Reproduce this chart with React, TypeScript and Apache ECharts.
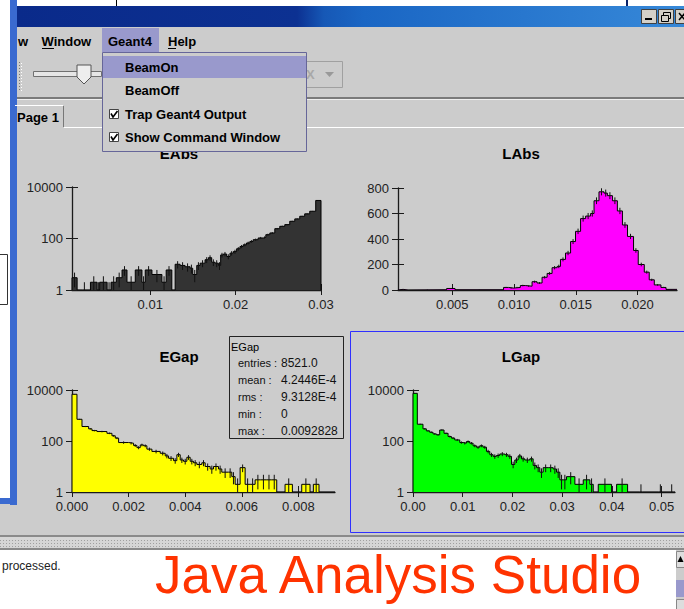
import React, { useEffect, useRef } from 'react';
import * as echarts from 'echarts';

const FONT = "'Liberation Sans', Arial, sans-serif";

// ---------- EAbs (log y) ----------
const eAbsEdges = [0.00084, 0.00144, 0.0021, 0.00248, 0.003, 0.00378, 0.00408, 0.00495, 0.00541, 0.00603, 0.0067, 0.00728, 0.00825, 0.00903, 0.00942, 0.0102, 0.01137, 0.01187, 0.01253, 0.01292, 0.0135, 0.01408, 0.01467, 0.01498, 0.01545, 0.01584, 0.01642, 0.01681, 0.0172, 0.01759, 0.01798, 0.01825, 0.01856, 0.01895, 0.01934, 0.01973, 0.02012, 0.02051, 0.02089, 0.02128, 0.02167, 0.02206, 0.02264, 0.02323, 0.02354, 0.02401, 0.02459, 0.02517, 0.02576, 0.02634, 0.02693, 0.02751, 0.02809, 0.02868, 0.02938, 0.03];
const eAbsCounts = [3, 0, 1, 0, 2, 1, 2, 1, 2, 3, 6, 2, 6, 2, 6, 4, 2, 6, 0, 10, 9, 8, 7, 4, 9, 11, 15, 18, 12, 11, 9, 23, 25, 20, 27, 31, 40, 49, 57, 67, 77, 90, 105, 110, 141, 164, 241, 297, 346, 466, 578, 730, 906, 1145, 3000];
const eAbsXTicks = [0.01, 0.02, 0.03];

// ---------- LAbs (linear y) ----------
const lAbsEdges = [0.0006, 0.00101, 0.00142, 0.00454, 0.00522, 0.00915, 0.00956, 0.00996, 0.01051, 0.01091, 0.01146, 0.01186, 0.01227, 0.01268, 0.01308, 0.01349, 0.01376, 0.01417, 0.01458, 0.01498, 0.01539, 0.0158, 0.0162, 0.01648, 0.01688, 0.01729, 0.01756, 0.01797, 0.01837, 0.01878, 0.01919, 0.01968, 0.02006, 0.02055, 0.02095, 0.02136, 0.0219, 0.02231, 0.0232];
const lAbsCounts = [5, 0, 2, 12, 2, 20, 15, 20, 35, 30, 65, 55, 100, 130, 175, 185, 240, 290, 380, 460, 560, 580, 600, 700, 770, 760, 740, 700, 620, 510, 420, 310, 200, 140, 80, 40, 20, 5];
const lAbsXTicks = [0.005, 0.01, 0.015, 0.02];

// ---------- EGap (log y) ----------
const eGapEdges = [0, 0.000176, 0.000353, 0.000588, 0.000706, 0.000882, 0.001235, 0.001412, 0.001529, 0.001647, 0.002, 0.002176, 0.002294, 0.002412, 0.002529, 0.002647, 0.002824, 0.003118, 0.003294, 0.003412, 0.003588, 0.003706, 0.003824, 0.003941, 0.004059, 0.004176, 0.004294, 0.004412, 0.004588, 0.004706, 0.004882, 0.005, 0.005176, 0.005294, 0.005529, 0.005647, 0.005765, 0.005941, 0.006118, 0.006294, 0.006471, 0.006667, 0.006863, 0.007059, 0.007235, 0.007529, 0.007788, 0.008118, 0.008412, 0.008529, 0.008729, 0.009294];
const eGapCounts = [6800, 710, 370, 300, 256, 235, 200, 160, 130, 87, 82, 67, 55, 70, 65, 48, 39, 33, 26, 21, 17, 29, 18, 16, 23, 16, 14, 12, 14, 10, 8, 10, 8, 6, 6, 4, 2, 9, 2, 2, 3, 3, 3, 3, 0, 2, 0, 2, 0, 2, 0];
const eGapXTicks = [0, 0.002, 0.004, 0.006, 0.008];

// ---------- LGap (log y) ----------
const lGapEdges = [0, 0.00087, 0.00201, 0.00268, 0.00336, 0.00403, 0.0047, 0.00537, 0.00624, 0.00705, 0.00772, 0.00839, 0.0094, 0.01007, 0.01074, 0.01141, 0.01208, 0.01275, 0.01342, 0.01409, 0.01477, 0.01544, 0.01611, 0.01678, 0.01745, 0.01846, 0.01913, 0.0198, 0.02047, 0.02114, 0.02181, 0.02248, 0.02349, 0.02416, 0.02483, 0.0255, 0.02617, 0.02718, 0.02819, 0.02886, 0.02953, 0.0302, 0.03087, 0.03255, 0.03423, 0.03557, 0.03624, 0.03725, 0.03993, 0.04094, 0.04315, 0.0455, 0.04617, 0.0494, 0.05007, 0.05168, 0.05235, 0.05268];
const lGapCounts = [7400, 455, 300, 250, 220, 190, 175, 270, 200, 150, 130, 110, 87, 82, 95, 82, 65, 57, 65, 57, 39, 29, 25, 27, 31, 29, 25, 12, 18, 26, 20, 18, 20, 11, 9, 6, 9, 9, 8, 6, 3, 3, 4, 2, 3, 2, 0, 2, 0, 2, 0, 1, 0, 1, 0, 1, 0];
const lGapXTicks = [0, 0.01, 0.02, 0.03, 0.04, 0.05];

// stats box
const statLabels = ['entries :', 'mean :', 'rms :', 'min :', 'max :'];
const statValues = ['8521.0', '4.2446E-4', '9.3128E-4', '0', '0.0092828'];

const menuItems = ['BeamOn', 'BeamOff', 'Trap Geant4 Output', 'Show Command Window'];

const GRAY = '#cccccc';
const AX = '#1a1a1a';

type Hist = {
  name: string; edges: number[]; counts: number[]; log: boolean; fill: string;
  grid: { left: number; top: number; width: number; height: number };
  xTicks: number[]; dec: number; yMax: number; yInt: number;
};

const hists: Hist[] = [
  { name: 'EAbs', edges: eAbsEdges, counts: eAbsCounts, log: true, fill: '#333333', grid: { left: 72, top: 187, width: 249, height: 103 }, xTicks: eAbsXTicks, dec: 2, yMax: 4, yInt: 2 },
  { name: 'LAbs', edges: lAbsEdges, counts: lAbsCounts, log: false, fill: '#ff00ff', grid: { left: 398, top: 188, width: 279, height: 102 }, xTicks: lAbsXTicks, dec: 3, yMax: 800, yInt: 200 },
  { name: 'EGap', edges: eGapEdges, counts: eGapCounts, log: true, fill: '#ffff00', grid: { left: 72, top: 390, width: 263, height: 102 }, xTicks: eGapXTicks, dec: 3, yMax: 4, yInt: 2 },
  { name: 'LGap', edges: lGapEdges, counts: lGapCounts, log: true, fill: '#00ff00', grid: { left: 413, top: 390, width: 262, height: 102 }, xTicks: lGapXTicks, dec: 2, yMax: 4, yInt: 2 },
];

const tr = (h: Hist, c: number) => (h.log ? Math.log10(Math.max(c, 1)) : c);

function stepPoints(h: Hist) {
  const n = h.counts.length;
  const pts: number[][] = [[h.edges[0], 0]];
  for (let i = 0; i < n; i++) pts.push([h.edges[i], tr(h, h.counts[i])]);
  pts.push([h.edges[n], tr(h, h.counts[n - 1])]);
  pts.push([h.edges[n], 0]);
  return pts;
}

function errPoints(h: Hist) {
  const out: number[][] = [];
  h.counts.forEach((c, i) => {
    if (c <= 0) return;
    const mid = (h.edges[i] + h.edges[i + 1]) / 2;
    const e = Math.sqrt(c);
    out.push([mid, tr(h, Math.max(c - e, h.log ? 1 : 0)), tr(h, c + e)]);
  });
  return out;
}

function buildOption() {
  const grid: any[] = [];
  const xAxis: any[] = [];
  const yAxis: any[] = [];
  const series: any[] = [];
  hists.forEach((h, g) => {
    grid.push({ ...h.grid, containLabel: false });
    const xMin = h.edges[0];
    const xMax = h.edges[h.edges.length - 1];
    const lbl = { color: '#222', fontSize: 13, fontFamily: FONT };
    xAxis.push({
      gridIndex: g, type: 'value', min: xMin, max: xMax, position: 'bottom',
      axisLine: { show: true, onZero: false, lineStyle: { color: AX, width: 1.3 } },
      axisTick: { show: true, inside: false, length: 5, customValues: h.xTicks, lineStyle: { color: AX, width: 1 } },
      axisLabel: { ...lbl, customValues: h.xTicks, margin: 8, formatter: (v: number) => Number(v).toFixed(h.dec) },
      splitLine: { show: false },
    });
    xAxis.push({
      gridIndex: g, type: 'value', min: xMin, max: xMax, position: 'bottom',
      axisLine: { show: false, onZero: false },
      axisTick: { show: true, inside: true, length: 6, customValues: h.xTicks, lineStyle: { color: AX, width: 1 } },
      axisLabel: { show: false },
      splitLine: { show: false },
    });
    const yFmt = (v: number) => (h.log ? String(Math.round(Math.pow(10, v))) : String(v));
    yAxis.push({
      gridIndex: g, type: 'value', min: 0, max: h.yMax, interval: h.yInt, position: 'left',
      axisLine: { show: true, onZero: false, lineStyle: { color: AX, width: 1.3 } },
      axisTick: { show: true, inside: false, length: 6, lineStyle: { color: AX, width: 1 } },
      axisLabel: { ...lbl, margin: 9, formatter: yFmt },
      splitLine: { show: false },
    });
    yAxis.push({
      gridIndex: g, type: 'value', min: 0, max: h.yMax, interval: h.yInt, position: 'left',
      axisLine: { show: false, onZero: false },
      axisTick: { show: true, inside: true, length: 6, lineStyle: { color: AX, width: 1 } },
      axisLabel: { show: false },
      splitLine: { show: false },
    });
    series.push({
      name: h.name, type: 'line', xAxisIndex: 2 * g, yAxisIndex: 2 * g,
      data: stepPoints(h), step: 'end', symbol: 'none', showSymbol: false, silent: true,
      lineStyle: { color: '#000', width: 1 }, areaStyle: { color: h.fill, opacity: 1 }, z: 2,
    });
    series.push({
      name: h.name + ' err', type: 'custom', xAxisIndex: 2 * g, yAxisIndex: 2 * g,
      data: errPoints(h), silent: true, z: 3,
      encode: { x: 0, y: [1, 2] },
      renderItem: (_p: any, api: any) => {
        const a = api.coord([api.value(0), api.value(1)]);
        const b = api.coord([api.value(0), api.value(2)]);
        return { type: 'line', shape: { x1: a[0], y1: a[1], x2: b[0], y2: b[1] }, style: { stroke: '#111', lineWidth: 1 } };
      },
    });
  });

  const rect = (x: number, y: number, w: number, hh: number, fill: any, stroke?: string, z = 1, lw = 1) => ({
    type: 'rect', z, silent: true, shape: { x, y, width: w, height: hh },
    style: { fill: fill ?? 'none', stroke: stroke ?? 'none', lineWidth: lw },
  });
  const line = (x1: number, y1: number, x2: number, y2: number, stroke: string, lw = 1, z = 1, dash?: number[]) => ({
    type: 'line', z, silent: true, shape: { x1, y1, x2, y2 }, style: { stroke, lineWidth: lw, lineDash: dash },
  });
  const text = (t: string, x: number, y: number, size: number, opts: any = {}) => ({
    type: 'text', z: opts.z ?? 5, silent: true, x, y,
    style: {
      text: t, fill: opts.color ?? '#000', fontSize: size, fontWeight: opts.bold ? 'bold' : 'normal', fontFamily: FONT,
      textAlign: opts.align ?? 'left', textVerticalAlign: 'middle', align: opts.align ?? 'left', verticalAlign: 'middle',
    },
  });
  const poly = (pts: number[][], fill: string, stroke?: string, z = 1) => ({
    type: 'polygon', z, silent: true, shape: { points: pts }, style: { fill, stroke: stroke ?? 'none', lineWidth: 1 },
  });

  const titleGrad = new echarts.graphic.LinearGradient(0, 0, 1, 0, [
    { offset: 0, color: '#0a2a8a' },
    { offset: 0.42, color: '#0c3192' },
    { offset: 0.46, color: '#1658b6' },
    { offset: 0.52, color: '#1a66c4' },
    { offset: 1, color: '#3688d8' },
  ]);

  const els: any[] = [];
  // top strip + title bar
  els.push(rect(0, 0, 684, 6, '#ffffff'));
  els.push(line(116.5, 0, 116.5, 6, '#000'));
  els.push(rect(626, 0, 2, 6, '#0a246a'));
  els.push(rect(17, 6, 667, 21, titleGrad));
  [641, 658, 675].forEach((bx) => els.push(rect(bx + 0.5, 9.5, 15, 14, '#d4d0c8', '#404040')));
  els.push(rect(645, 18, 7, 2, '#000'));
  els.push(rect(663.5, 12.5, 7, 6, 'none', '#000'));
  els.push(rect(661.5, 15.5, 7, 6, '#d4d0c8', '#000'));
  els.push(line(679, 13, 685, 20, '#000', 1.5));
  els.push(line(685, 13, 679, 20, '#000', 1.5));
  // left window border
  els.push(rect(0, 0, 10, 498, '#ffffff'));
  els.push(rect(10, 0, 7, 505, '#3a6ad0'));
  els.push(rect(0, 498, 17, 6, '#3a6ad0'));
  els.push(rect(-1, 254.5, 8.5, 50, '#ffffff', '#333'));
  // menu bar
  els.push(text('w', 18, 41, 13, { bold: true }));
  els.push(text('Window', 41.5, 41, 13, { bold: true }));
  els.push(line(42, 48.5, 54, 48.5, '#000'));
  els.push(rect(102, 28, 57, 24, '#9999cc'));
  els.push(text('Geant4', 108, 41, 13, { bold: true }));
  els.push(text('Help', 168, 41, 13, { bold: true }));
  els.push(line(168, 48.5, 176, 48.5, '#000'));
  // toolbar
  els.push(line(19.5, 62, 19.5, 91, '#777', 1, 1, [1, 2]));
  els.push(line(21.5, 63, 21.5, 92, '#fff', 1, 1, [1, 2]));
  els.push(rect(33.5, 71.5, 68, 5, '#e6e6e6', '#707070'));
  els.push(poly([[77, 65], [91, 65], [91, 77], [84, 84], [77, 77]], '#eeeeee', '#555'));
  els.push(rect(290.5, 61.5, 52, 26, 'none', '#a0a0a0'));
  els.push(text('X', 306, 74.5, 13, { bold: true, color: '#a8a8a8' }));
  els.push(poly([[325, 72], [334, 72], [329.5, 77]], '#999'));
  // separator
  els.push(rect(17, 97, 667, 2, '#7a7a7a'));
  els.push(rect(17, 99, 667, 1, '#eeeeee'));
  // tab
  els.push(line(15, 105.5, 63, 105.5, '#ffffff'));
  els.push(line(63.5, 106, 63.5, 127, '#777'));
  els.push(line(64, 127.5, 684, 127.5, '#ffffff'));
  els.push(text('Page 1', 17, 117, 13, { bold: true }));
  // chart titles
  els.push(text('EAbs', 179, 153, 15, { bold: true, align: 'center', z: 10 }));
  els.push(text('LAbs', 521, 153, 15, { bold: true, align: 'center', z: 10 }));
  els.push(text('EGap', 179, 356, 15, { bold: true, align: 'center', z: 10 }));
  els.push(text('LGap', 521, 356, 15, { bold: true, align: 'center', z: 10 }));
  // LGap selection frame
  els.push(rect(350.5, 331.5, 340, 201, 'none', '#3030ff'));
  // stats box
  els.push(rect(229.5, 336.5, 114, 102, GRAY, '#222', 50));
  els.push(text('EGap', 231, 347, 11, { z: 51 }));
  statLabels.forEach((s, i) => {
    const y = 363.3 + i * 16.8;
    els.push(text(s, 238, y, 11, { z: 51, color: '#111' }));
    els.push(text(statValues[i], 281, y, 12, { z: 51, color: '#111' }));
  });
  // bottom area
  els.push(rect(0, 535, 684, 2, '#8a8a8a'));
  els.push(rect(0, 537, 684, 11, '#d6d6d6'));
  [540.5, 543.5, 546.5].forEach((yy) => els.push(line(0, yy, 684, yy, '#a0a0a0', 1, 1, [1, 2])));
  els.push(rect(0, 548, 684, 2, '#8a8a8a'));
  els.push(rect(0, 550, 676, 59, '#ffffff'));
  els.push(text('processed.', 2, 566, 12, { color: '#222' }));
  els.push(text('Java Analysis Studio', 155, 574, 53, { color: '#ff3300' }));
  els.push(rect(676, 550, 8, 59, GRAY));
  els.push(rect(676.5, 551.5, 8, 16, '#dddddd', '#888'));
  els.push(poly([[677.5, 562], [683.5, 562], [680.5, 556]], '#000'));
  els.push(rect(676, 580, 8, 17, '#9999cc'));
  els.push(rect(676.5, 599.5, 8, 10, '#dddddd', '#888'));
  // Geant4 dropdown menu (on top)
  els.push(rect(102.5, 52.5, 204, 99, GRAY, '#666699', 100));
  els.push(rect(103, 56, 203, 22, '#9999cc', undefined, 101));
  [67, 90, 114, 137].forEach((yy, i) => els.push(text(menuItems[i], 125, yy, 13, { bold: true, z: 102 })));
  [109.5, 132.5].forEach((yy) => {
    els.push(rect(109.5, yy, 9, 9, '#ffffff', '#444', 102));
    els.push({ type: 'polyline', z: 103, silent: true, shape: { points: [[111, yy + 4], [113, yy + 7.5], [117.5, yy + 1.5]] }, style: { stroke: '#000', lineWidth: 1.6, fill: 'none' } });
  });

  return {
    animation: false,
    backgroundColor: GRAY,
    grid, xAxis, yAxis, series,
    graphic: { elements: els },
  };
}

export default function App() {
  const ref = useRef<HTMLDivElement>(null);
  useEffect(() => {
    const chart = echarts.init(ref.current!, undefined, { renderer: 'svg', width: 684, height: 609 });
    chart.setOption(buildOption() as any);
    return () => chart.dispose();
  }, []);
  return <div ref={ref} style={{ position: 'fixed', left: 0, top: 0, width: 684, height: 609 }} />;
}
